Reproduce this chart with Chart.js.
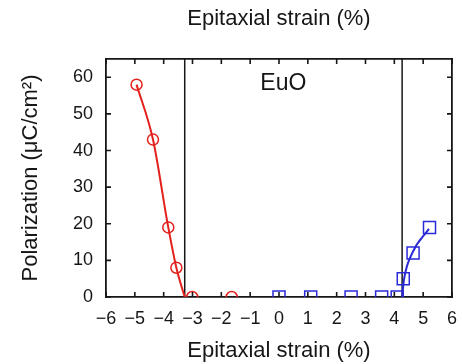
<!DOCTYPE html>
<html>
<head>
<meta charset="utf-8">
<script src="https://cdn.jsdelivr.net/npm/chart.js@4/dist/chart.umd.min.js"></script>
<style>
  html, body { margin: 0; padding: 0; background: #fff; }
  #wrap { width: 462px; height: 364px; }
</style>
</head>
<body>
<div id="wrap"><canvas id="c" width="462" height="364"></canvas></div>
<script>
// Compressive side (red circles) and tensile side (blue squares)
const redStrain = [-4.94, -4.37, -3.84, -3.56, -3.01, -1.64];
const redPol    = [58, 43, 19, 8, 0, 0];
const blueStrain = [0, 1.1, 2.5, 3.56, 4.1, 4.31, 4.65, 5.22];
const bluePol    = [0, 0, 0, 0, 0, 5, 12, 19];
// Fitted guide curves
const redFitX  = [-4.94, -4.37, -3.84, -3.56, -3.27];
const redFitY  = [58, 43, 19, 8, 0];
const blueFitX = [4.27, 4.34, 4.62, 5.2];
const blueFitY = [0, 5, 12, 18.6];
// Phase boundaries
const boundaries = [-3.27, 4.27];
const xTicks = [-6, -5, -4, -3, -2, -1, 0, 1, 2, 3, 4, 5, 6];
const yTicks = [0, 10, 20, 30, 40, 50, 60];
const xMin = -6, xMax = 6, yMin = 0, yMax = 65;

const FONT = "'Liberation Sans', Arial, Helvetica, sans-serif";
const INK = '#161616';
const RED = '#e3201c';
const BLUE = '#2a2ad6';

const pts = (xs, ys) => xs.map((x, i) => ({ x: x, y: ys[i] }));

// Fixed axis box sizes; edge label padding is dropped so the frame keeps its width
const fixSize = (prop, v) => function (scale) {
  scale[prop] = v;
  scale.paddingLeft = 0;
  scale.paddingRight = 0;
  scale.paddingTop = 0;
  scale.paddingBottom = 0;
};

// Inward tick marks on all four sides plus the label inside the frame
const frameTicks = {
  id: 'frameTicks',
  afterDatasetsDraw(chart) {
    const { ctx, chartArea: a, scales } = chart;
    const len = 5;
    ctx.save();
    ctx.strokeStyle = INK;
    ctx.lineWidth = 1.6;
    ctx.beginPath();
    xTicks.forEach(v => {
      const px = scales.x.getPixelForValue(v);
      ctx.moveTo(px, a.bottom); ctx.lineTo(px, a.bottom - len);
      ctx.moveTo(px, a.top); ctx.lineTo(px, a.top + len);
    });
    yTicks.forEach(v => {
      const py = scales.y.getPixelForValue(v);
      ctx.moveTo(a.left, py); ctx.lineTo(a.left + len, py);
      ctx.moveTo(a.right, py); ctx.lineTo(a.right - len, py);
    });
    ctx.stroke();
    ctx.fillStyle = INK;
    ctx.font = '23px ' + FONT;
    ctx.textAlign = 'center';
    ctx.textBaseline = 'alphabetic';
    ctx.fillText('EuO', scales.x.getPixelForValue(0.15), scales.y.getPixelForValue(56.4));
    ctx.restore();
  }
};

const border = { display: true, color: INK, width: 1.8 };

new Chart(document.getElementById('c'), {
  type: 'scatter',
  data: {
    datasets: [
      {
        label: 'compressive',
        data: pts(redStrain, redPol),
        showLine: false,
        pointStyle: 'circle',
        pointRadius: 5.5,
        pointBorderWidth: 1.5,
        pointBorderColor: RED,
        pointBackgroundColor: 'rgba(0,0,0,0)'
      },
      {
        label: 'tensile',
        data: pts(blueStrain, bluePol),
        showLine: false,
        pointStyle: 'rect',
        pointRadius: 8.5,
        pointBorderWidth: 1.5,
        pointBorderColor: BLUE,
        pointBackgroundColor: 'rgba(0,0,0,0)'
      },
      {
        label: 'compressive fit',
        data: pts(redFitX, redFitY),
        showLine: true,
        pointRadius: 0,
        borderColor: RED,
        borderWidth: 2,
        cubicInterpolationMode: 'monotone'
      },
      {
        label: 'tensile fit',
        data: pts(blueFitX, blueFitY),
        showLine: true,
        pointRadius: 0,
        borderColor: BLUE,
        borderWidth: 2,
        cubicInterpolationMode: 'monotone'
      },
      ...boundaries.map(b => ({
        label: 'boundary',
        data: [{ x: b, y: yMin }, { x: b, y: yMax }],
        showLine: true,
        pointRadius: 0,
        borderColor: INK,
        borderWidth: 1.5
      }))
    ]
  },
  options: {
    responsive: false,
    animation: false,
    layout: { padding: 0 },
    plugins: { legend: { display: false }, tooltip: { enabled: false } },
    scales: {
      x: {
        type: 'linear', position: 'bottom', min: xMin, max: xMax,
        afterFit: fixSize('height', 67),
        grid: { display: false, drawTicks: false },
        border: border,
        ticks: {
          stepSize: 1, padding: 11, color: INK,
          font: { family: FONT, size: 18 },
          maxRotation: 0, autoSkip: false,
          callback: v => (v < 0 ? '\u2212' + Math.abs(v) : String(v))
        },
        title: {
          display: true, text: 'Epitaxial strain (%)', color: INK,
          font: { family: FONT, size: 22 }, padding: { top: 0, bottom: 0 }
        }
      },
      x2: {
        type: 'linear', position: 'top', min: xMin, max: xMax,
        afterFit: fixSize('height', 59),
        grid: { display: false, drawTicks: false },
        border: border,
        ticks: { display: false },
        title: {
          display: true, text: 'Epitaxial strain (%)', color: INK,
          font: { family: FONT, size: 22 }, padding: { top: 6, bottom: 0 }
        }
      },
      y: {
        type: 'linear', position: 'left', min: yMin, max: yMax,
        afterFit: fixSize('width', 106),
        grid: { display: false, drawTicks: false },
        border: border,
        ticks: {
          stepSize: 10, includeBounds: false, padding: 13, color: INK,
          font: { family: FONT, size: 18 }
        },
        title: {
          display: true, text: 'Polarization (\u03bcC/cm\u00b2)', color: INK,
          font: { family: FONT, size: 22 }, padding: { top: 18, bottom: 0 }
        }
      },
      y2: {
        type: 'linear', position: 'right', min: yMin, max: yMax,
        afterFit: fixSize('width', 7),
        grid: { display: false, drawTicks: false },
        border: border,
        ticks: { display: false }
      }
    }
  },
  plugins: [frameTicks]
});
</script>
</body>
</html>
